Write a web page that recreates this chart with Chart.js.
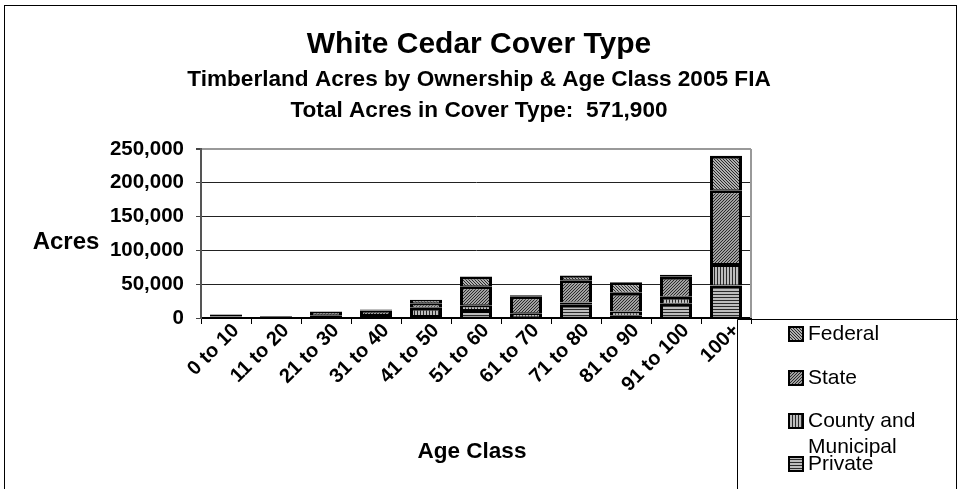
<!DOCTYPE html>
<html>
<head>
<meta charset="utf-8">
<script src="https://cdn.jsdelivr.net/npm/chart.js@4.4.1/dist/chart.umd.min.js"></script>
<style>
  html, body { margin: 0; padding: 0; background: #fff; }
  #wrap { width: 958px; height: 489px; }
</style>
</head>
<body>
<div id="wrap"><canvas id="chart"></canvas></div>
<script>
const ageClasses = ["0 to 10", "11 to 20", "21 to 30", "31 to 40", "41 to 50", "51 to 60",
                    "61 to 70", "71 to 80", "81 to 90", "91 to 100", "100+"];
// acres per ownership, bottom to top of each stack
const privateAcres = [2400, 1000, 3000, 3000, 3000, 12000, 1000, 19500, 3500, 21000, 48000];
const countyAcres  = [500, 500, 1000, 1500, 12000, 7000, 6000, 3500, 6000, 10500, 32000];
const stateAcres   = [2000, 1000, 5000, 6500, 7000, 28000, 25000, 33000, 28000, 29500, 109000];
const federalAcres = [500, 0, 500, 1500, 5000, 14500, 1500, 7000, 15500, 3000, 51000];
const yTicks = [0, 50000, 100000, 150000, 200000, 250000];

const titleLines = ["White Cedar Cover Type",
                    "Timberland Acres by Ownership & Age Class 2005 FIA",
                    "Total Acres in Cover Type:  571,900"];
const yTitle = "Acres";
const xTitle = "Age Class";

const FONT = "'Liberation Sans', Arial, sans-serif";
Chart.defaults.font.family = FONT;
Chart.defaults.color = "#000";

// small pixel patterns, like the old spreadsheet fills
function makePattern(kind){
  const size = 3;
  const c = document.createElement("canvas");
  c.width = size; c.height = size;
  const g = c.getContext("2d");
  g.fillStyle = kind === "federal" ? "#b0b0b0" : kind === "state" ? "#a0a0a0" : "#bdbdbd";
  g.fillRect(0, 0, size, size);
  g.fillStyle = "#2a2a2a";
  for (let i = 0; i < size; i++){
    if (kind === "federal") g.fillRect(i, i, 1, 1);
    else if (kind === "state") g.fillRect(size - 1 - i, i, 1, 1);
    else if (kind === "county") g.fillRect(0, i, 1, 1);
    else g.fillRect(i, 0, 1, 1);
  }
  return document.createElement("canvas").getContext("2d").createPattern(c, "repeat");
}

const fills = {
  private: makePattern("private"),
  county: makePattern("county"),
  state: makePattern("state"),
  federal: makePattern("federal"),
};

function ds(label, data, fill){
  return {
    label, data,
    backgroundColor: fill,
    borderColor: "#000",
    borderWidth: { top: 3, left: 3, right: 3, bottom: 1 },
    borderSkipped: false,
    barPercentage: 0.64,
    categoryPercentage: 1.0,
  };
}

const decor = {
  id: "decor",
  afterDraw(chart){
    const ctx = chart.ctx;
    const a = chart.chartArea;
    ctx.save();

    // outer frame
    ctx.strokeStyle = "#000";
    ctx.lineWidth = 1;
    ctx.strokeRect(4.5, 5.5, 952, 495);

    // plot area right border
    ctx.strokeStyle = "#999";
    ctx.lineWidth = 2;
    ctx.beginPath();
    ctx.moveTo(a.right, a.top);
    ctx.lineTo(a.right, a.bottom);
    ctx.stroke();

    // legend box edges
    ctx.strokeStyle = "#000";
    ctx.lineWidth = 1;
    ctx.beginPath();
    ctx.moveTo(737.5, 319.5); ctx.lineTo(958, 319.5);
    ctx.moveTo(737.5, 319.5); ctx.lineTo(737.5, 489);
    ctx.stroke();

    // titles
    ctx.fillStyle = "#000";
    ctx.textAlign = "center";
    ctx.textBaseline = "alphabetic";
    ctx.font = "bold 30px " + FONT;
    ctx.fillText(titleLines[0], 479, 53);
    ctx.font = "bold 22.6px " + FONT;
    ctx.fillText(titleLines[1], 479, 86);
    ctx.fillText(titleLines[2], 479, 117);

    // axis titles
    ctx.textBaseline = "middle";
    ctx.font = "bold 24px " + FONT;
    ctx.fillText(yTitle, 66, 242);
    ctx.font = "bold 22.5px " + FONT;
    ctx.fillText(xTitle, 472, 452);

    // legend, top entry first
    const items = chart.data.datasets.slice().reverse();
    const rows = [334, 378, 421, 464];
    ctx.font = "21px " + FONT;
    ctx.textAlign = "left";
    items.forEach((d, i) => {
      const y = rows[i];
      ctx.fillStyle = d.backgroundColor;
      ctx.fillRect(789, y - 7, 14, 14);
      ctx.strokeStyle = "#000";
      ctx.lineWidth = 2;
      ctx.strokeRect(789, y - 7, 14, 14);
      ctx.fillStyle = "#000";
      // wrap long labels
      const words = d.label.split(" ");
      let line = "", ly = y;
      words.forEach(w => {
        const test = line ? line + " " + w : w;
        if (ctx.measureText(test).width > 140 && line){
          ctx.fillText(line, 808, ly);
          line = w; ly += 26;
        } else line = test;
      });
      ctx.fillText(line, 808, ly);
    });

    ctx.restore();
  }
};

new Chart(document.getElementById("chart"), {
  type: "bar",
  data: {
    labels: ageClasses,
    datasets: [
      ds("Private", privateAcres, fills.private),
      ds("County and Municipal", countyAcres, fills.county),
      ds("State", stateAcres, fills.state),
      ds("Federal", federalAcres, fills.federal),
    ]
  },
  options: {
    responsive: true,
    maintainAspectRatio: false,
    animation: false,
    devicePixelRatio: 1,
    layout: { padding: { left: 0, top: 149, right: 207, bottom: 0 } },
    plugins: {
      legend: { display: false },
      title: { display: false },
      tooltip: { enabled: false },
    },
    scales: {
      x: {
        stacked: true,
        grid: { offset: true, drawOnChartArea: false, tickLength: 6, color: "#000" },
        border: { color: "#000", width: 2 },
        ticks: {
          autoSkip: false, maxRotation: 45, minRotation: 45, padding: -5, labelOffset: 10,
          font: { size: 20, weight: "bold" }, color: "#000",
        },
        afterFit(s){ s.height = 171; },
      },
      y: {
        stacked: true,
        min: 0, max: 250000,
        afterBuildTicks(axis){ axis.ticks = yTicks.map(v => ({ value: v })); },
        grid: {
          color: c => (c.tick && c.tick.value === 250000) ? "#999" : "#222",
          lineWidth: c => (c.tick && c.tick.value === 250000) ? 2 : 1,
          tickLength: 5, tickColor: "#444",
        },
        border: { color: "#555", width: 2 },
        ticks: {
          padding: 12,
          font: { size: 20.5, weight: "bold" }, color: "#000",
          callback: v => v.toLocaleString("en-US"),
        },
        afterFit(s){ s.width = 201; },
      }
    }
  },
  plugins: [decor]
});
</script>
</body>
</html>
